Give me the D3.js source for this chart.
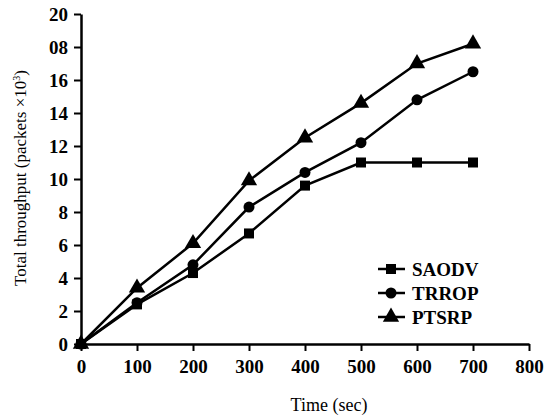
<!DOCTYPE html>
<html>
<head>
<meta charset="utf-8">
<script src="https://cdn.jsdelivr.net/npm/d3@7"></script>
<style>
  body { margin: 0; background: #fff; }
  text { font-family: "Liberation Serif", "Times New Roman", serif; fill: #000; }
</style>
</head>
<body>
<svg width="547" height="418"></svg>
<script>
var times = [0, 100, 200, 300, 400, 500, 600, 700]
var saodv = [0, 2.4, 4.3, 6.7, 9.6, 11.0, 11.0, 11.0]
var trrop = [0, 2.5, 4.8, 8.3, 10.4, 12.2, 14.8, 16.5]
var ptsrp = [0, 3.4, 6.1, 9.9, 12.5, 14.6, 17.0, 18.2]
var xTicks = [0, 100, 200, 300, 400, 500, 600, 700, 800]
var yTicks = [0, 2, 4, 6, 8, 10, 12, 14, 16, 18, 20]
var yTickLabels = ['0', '2', '4', '6', '8', '10', '12', '14', '16', '08', '20']
var names = ['SAODV', 'TRROP', 'PTSRP']
var shapes = [d3.symbolSquare, d3.symbolCircle, d3.symbolTriangle]
var sizes = [100, 95, 115]

var svg = d3.select('svg')

var x = d3.scaleLinear().domain([0, 800]).range([81, 529])
var y = d3.scaleLinear().domain([0, 20]).range([344, 14])

// x axis
var xAxis = svg.append('g')
    .attr('transform', 'translate(0,344)')
    .call(d3.axisBottom(x).tickValues(xTicks).tickSize(7).tickPadding(9).tickSizeOuter(0))
xAxis.select('.domain').attr('stroke-width', 2.5)
xAxis.selectAll('.tick line').attr('stroke-width', 2)
xAxis.selectAll('text').style('font-size', '19px').style('font-weight', 'bold')

// y axis
var yAxis = svg.append('g')
    .attr('transform', 'translate(81,0)')
    .call(d3.axisLeft(y).tickValues(yTicks).tickSize(7).tickPadding(6).tickSizeOuter(0)
        .tickFormat(function(d, i){ return yTickLabels[i] }))
yAxis.select('.domain').attr('stroke-width', 2.5)
yAxis.selectAll('.tick line').attr('stroke-width', 2)
yAxis.selectAll('text').style('font-size', '19px').style('font-weight', 'bold')

svg.append('text')
    .attr('x', 329)
    .attr('y', 411)
    .attr('text-anchor', 'middle')
    .style('font-size', '18px')
    .text('Time (sec)')

var yt = svg.append('text')
    .attr('transform', 'translate(26,178) rotate(-90)')
    .attr('text-anchor', 'middle')
    .style('font-size', '17px')
yt.append('tspan').text('Total throughput (packets \u00d710')
yt.append('tspan').attr('dy', -6).style('font-size', '10px').text('3')
yt.append('tspan').attr('dy', 6).text(')')

var series = [saodv, trrop, ptsrp]
var line = d3.line()
    .x(function(d, i){ return x(times[i]) })
    .y(function(d){ return y(d) })

series.forEach(function(s, k){
    svg.append('path')
        .datum(s)
        .attr('d', line)
        .attr('fill', 'none')
        .attr('stroke', '#000')
        .attr('stroke-width', 2.5)
    svg.selectAll('.m' + k)
        .data(s)
        .enter()
        .append('path')
        .attr('class', 'm' + k)
        .attr('d', d3.symbol().type(shapes[k]).size(sizes[k]))
        .attr('transform', function(d, i){ return 'translate(' + x(times[i]) + ',' + y(d) + ')' })
        .attr('fill', '#000')
})

// legend
var legend = svg.append('g')
names.forEach(function(n, k){
    var ly = 269 + k * 24
    legend.append('line')
        .attr('x1', 378).attr('x2', 405)
        .attr('y1', ly).attr('y2', ly)
        .attr('stroke', '#000').attr('stroke-width', 2.5)
    legend.append('path')
        .attr('d', d3.symbol().type(shapes[k]).size(sizes[k]))
        .attr('transform', 'translate(391,' + ly + ')')
    legend.append('text')
        .attr('x', 412)
        .attr('y', ly + 7)
        .style('font-size', '19px')
        .style('font-weight', 'bold')
        .text(n)
})
</script>
</body>
</html>
